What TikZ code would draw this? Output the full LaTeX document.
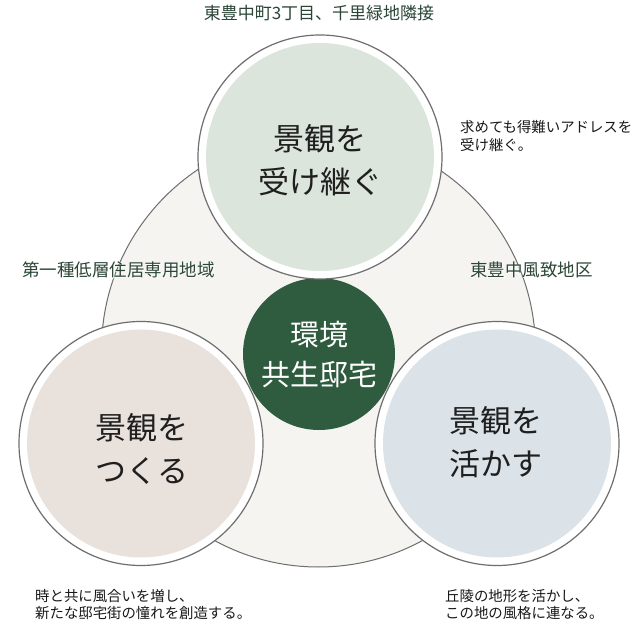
\documentclass[tikz,border=0pt]{standalone}
\usepackage{fontspec}
\setmainfont{Noto Sans CJK JP}
\newfontfamily\halofont[FakeBold=3]{Noto Sans CJK JP}
\definecolor{bgfill}{HTML}{F5F4F1}
\definecolor{ringgray}{HTML}{6E6E6E}
\definecolor{sage}{HTML}{DCE5DB}
\definecolor{beige}{HTML}{E9E1DC}
\definecolor{bluegray}{HTML}{DBE3E9}
\definecolor{darkgreen}{HTML}{2F5B3F}
\definecolor{labelgreen}{HTML}{2B4636}
\tikzset{
  ringcirc/.style={circle, inner sep=0, minimum size=244, fill=white, draw=ringgray, line width=1.2},
  innercirc/.style={circle, inner sep=0, minimum size=228},
  maintext/.style={align=center, inner sep=0, text=black!88, font=\fontsize{31}{43}\selectfont},
  coretext/.style={align=center, inner sep=0, text=white, font=\fontsize{29}{40}\selectfont},
  zonelabel/.style={inner sep=0, text=labelgreen, font=\fontsize{17.5}{20}\selectfont},
  halolabel/.style={inner sep=0, text=white, font=\halofont\fontsize{17.5}{20}\selectfont},
  smalltext/.style={align=left, inner sep=0, anchor=west, text=black!90, font=\fontsize{14.4}{17.8}\selectfont},
}
\begin{document}
\begin{tikzpicture}[x=1pt,y=-1pt]
\useasboundingbox (0,0) rectangle (638,631);
\fill[white] (0,0) rectangle (638,631);
% background circle
\node[circle, inner sep=0, minimum size=434, fill=bgfill, draw=ringgray, line width=1] (big) at (318.5,350) {};
% core circle
\node[circle, inner sep=0, minimum size=152, fill=darkgreen] (core) at (319,354) {};
% three circles
\node[ringcirc] (topring) at (320,157) {};
\node[innercirc, fill=sage] (topin) at (topring.center) {};
\node[ringcirc] (leftring) at (141,443.5) {};
\node[innercirc, fill=beige] (leftin) at (leftring.center) {};
\node[ringcirc] (rightring) at (497,443.5) {};
\node[innercirc, fill=bluegray] (rightin) at (rightring.center) {};
% texts in circles
\node[maintext] (toptext) at (320,160) {景観を\\受け継ぐ};
\node[maintext] (lefttext) at (142,449) {景観を\\つくる};
\node[maintext] (righttext) at (496,442) {景観を\\活かす};
\node[coretext] (coretxt) at (319,355) {環境\\共生邸宅};
% zone labels with white halo
\node[halolabel, anchor=west] (lefthalo) at (22,270) {第一種低層住居専用地域};
\node[halolabel, anchor=west] (righthalo) at (470,270) {東豊中風致地区};
\node[zonelabel, anchor=west] (leftlabel) at (22,270) {第一種低層住居専用地域};
\node[zonelabel, anchor=west] (rightlabel) at (470,270) {東豊中風致地区};
\node[zonelabel, font=\fontsize{17}{20}\selectfont] (toplabel) at (319,13) {東豊中町3丁目、千里緑地隣接};
% small descriptions
\node[smalltext] (desctop) at (460,136) {求めても得難いアドレスを\\受け継ぐ。};
\node[smalltext] (descleft) at (35,604.5) {時と共に風合いを増し、\\新たな邸宅街の憧れを創造する。};
\node[smalltext] (descright) at (445,604.5) {丘陵の地形を活かし、\\この地の風格に連なる。};
\end{tikzpicture}
\end{document}
